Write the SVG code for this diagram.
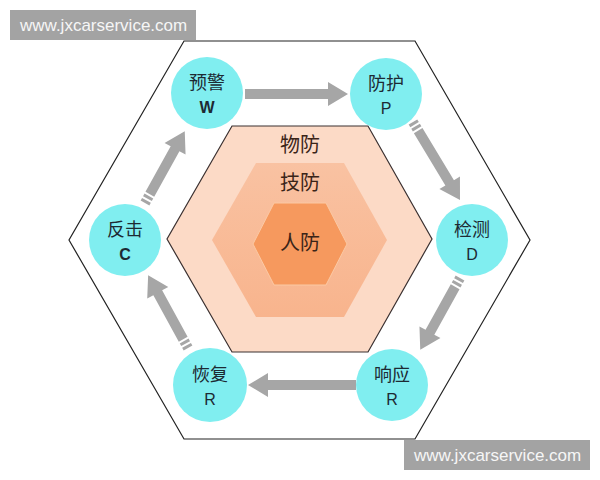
<svg xmlns="http://www.w3.org/2000/svg" width="600" height="480" viewBox="0 0 600 480">
<style>
.cn{font-family:"Noto Sans CJK SC","Noto Sans",sans-serif;fill:#1d2a33;text-anchor:middle}
.lbl{font-size:18px}
.let{font-family:"Liberation Sans","DejaVu Sans",sans-serif;font-size:16px;fill:#1d2a33;text-anchor:middle}
.ring{fill:#80eef0}
.arr{fill:#a6a6a6}
.hx{font-family:"Noto Sans CJK SC",sans-serif;font-size:20px;fill:#3a2418;text-anchor:middle}
.wm{fill:#a3a3a3}
.wmt{font-family:"Liberation Sans",Arial,sans-serif;font-size:17px;fill:#f6f6f6}
</style>
<defs>
<linearGradient id="g2" x1="0" y1="0" x2="0" y2="1"><stop offset="0" stop-color="#f9c2a2"/><stop offset="1" stop-color="#f8b48d"/></linearGradient>
</defs>
<rect width="600" height="480" fill="#ffffff"/>
<g id="outer-hex"><polygon points="184,41 415,41 530,240 415,439 184,439 69,240" fill="#ffffff" stroke="#222" stroke-width="1.2"/></g>
<g id="wufang"><polygon points="232,126 368,126 432,239 368,352 232,352 167,239" fill="#fcdac6" stroke="#3a3030" stroke-width="1.2"/><text class="hx" x="300" y="152">物防</text></g>
<g id="jifang"><polygon points="256,163 344,163 387,240 344,317 256,317 212,240" fill="url(#g2)"/><text class="hx" x="300" y="190">技防</text></g>
<g id="renfang"><polygon points="274,203 326,203 347,244 326,285 274,285 253,244" fill="#f6995e" stroke="#fbc9a4" stroke-width="1"/><text class="hx" x="300" y="250">人防</text></g>
<g id="connectors">
<g transform="translate(245,94)"><polygon class="arr" points="0,-5 83,-5 83,-12 103,0 83,12 83,5 0,5"/></g>
<g transform="translate(413,122) rotate(58.9)"><rect class="arr" x="0" y="-5" width="3" height="10"/><rect class="arr" x="5" y="-5" width="3" height="10"/><polygon class="arr" points="10,-5 71,-5 71,-12 91,0 71,12 71,5 10,5"/></g>
<g transform="translate(460,278) rotate(119)"><rect class="arr" x="0" y="-5" width="3" height="10"/><rect class="arr" x="5" y="-5" width="3" height="10"/><polygon class="arr" points="10,-5 62,-5 62,-12 82,0 62,12 62,5 10,5"/></g>
<g transform="translate(356,385) rotate(180)"><polygon class="arr" points="0,-5 88,-5 88,-12 108,0 88,12 88,5 0,5"/></g>
<g transform="translate(188,348) rotate(241.3)"><rect class="arr" x="0" y="-5" width="3" height="10"/><rect class="arr" x="5" y="-5" width="3" height="10"/><polygon class="arr" points="10,-5 63,-5 63,-12 83,0 63,12 63,5 10,5"/></g>
<g transform="translate(145,203) rotate(-61)"><rect class="arr" x="0" y="-5" width="3" height="10"/><rect class="arr" x="5" y="-5" width="3" height="10"/><polygon class="arr" points="10,-5 62,-5 62,-12 82,0 62,12 62,5 10,5"/></g>
</g>
<g id="yujing"><circle class="ring" cx="207" cy="93" r="36"/><text class="cn lbl" x="207" y="89">预警</text><text class="let" x="207" y="113" font-weight="bold">W</text></g>
<g id="fanghu"><circle class="ring" cx="386" cy="94" r="36"/><text class="cn lbl" x="386" y="90">防护</text><text class="let" x="386" y="114">P</text></g>
<g id="jiance"><circle class="ring" cx="472" cy="240" r="36"/><text class="cn lbl" x="472" y="236">检测</text><text class="let" x="472" y="260">D</text></g>
<g id="xiangying"><circle class="ring" cx="392" cy="385" r="36"/><text class="cn lbl" x="392" y="381">响应</text><text class="let" x="392" y="405">R</text></g>
<g id="huifu"><circle class="ring" cx="210" cy="385" r="37"/><text class="cn lbl" x="210" y="381">恢复</text><text class="let" x="210" y="405">R</text></g>
<g id="fanji"><circle class="ring" cx="125" cy="240" r="36"/><text class="cn lbl" x="125" y="236">反击</text><text class="let" x="125" y="260" font-weight="bold">C</text></g>
<g id="wm1"><rect class="wm" x="10" y="10" width="186" height="30"/><text class="wmt" x="20" y="31">www.jxcarservice.com</text></g>
<g id="wm2"><rect class="wm" x="404" y="440" width="186" height="30"/><text class="wmt" x="414" y="461">www.jxcarservice.com</text></g>
</svg>
